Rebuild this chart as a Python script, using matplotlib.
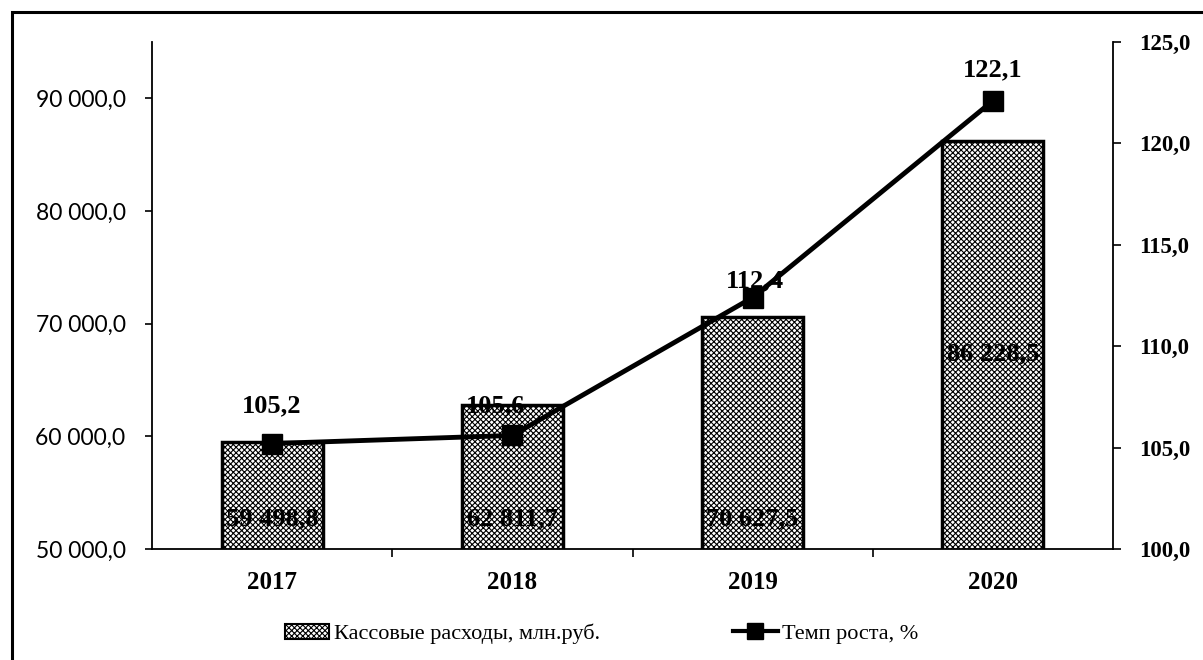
import matplotlib
matplotlib.use("Agg")
import matplotlib.pyplot as plt
import matplotlib.ticker as mticker
from matplotlib.patches import Rectangle, Patch
from matplotlib.lines import Line2D

years = ["2017", "2018", "2019", "2020"]
expenses = [59498.8, 62811.7, 70627.5, 86228.5]   # млн.руб.
growth = [105.2, 105.6, 112.4, 122.1]             # %

bar_label = "Кассовые расходы, млн.руб."
line_label = "Темп роста, %"

SERIF = "Liberation Serif"
SANS = "Lato"

plt.rcParams["hatch.linewidth"] = 0.8
plt.rcParams["hatch.color"] = "#3a3a3a"


def ru_num(v, digits=1):
    # 59498.8 -> "59 498,8"
    s = f"{v:,.{digits}f}"
    return s.replace(",", " ").replace(".", ",")


fig = plt.figure(figsize=(12.03, 6.60), dpi=100)
ax = fig.add_axes([152 / 1203, 1 - 549 / 660, (1113 - 152) / 1203, (549 - 42) / 660])
ax2 = ax.twinx()

x = list(range(len(years)))

# bars
ax.bar(x, expenses, width=0.42, color="white", edgecolor="black",
       linewidth=2.5, hatch="xxxxxx", zorder=2)
ax.set_ylim(50000, 95000)
ax.set_xlim(-0.5, len(years) - 0.5)
ax.set_yticks([50000, 60000, 70000, 80000, 90000])
ax.yaxis.set_major_formatter(mticker.FuncFormatter(lambda v, p: ru_num(v)))
for lbl in ax.get_yticklabels():
    lbl.set_fontfamily(SANS)
    lbl.set_fontsize(16.5)
ax.tick_params(axis="y", length=5, width=1.2, pad=14, direction="out")

ax.set_xticks(x)
ax.set_xticklabels(years, fontfamily=SERIF, fontsize=18, fontweight="bold")
ax.tick_params(axis="x", length=0, pad=16)
ax.set_xticks([0.5, 1.5, 2.5], minor=True)
ax.tick_params(axis="x", which="minor", length=6, width=1.2, direction="out")

for s in ["top", "right"]:
    ax.spines[s].set_visible(False)
ax.spines["left"].set_linewidth(1.3)
ax.spines["bottom"].set_linewidth(1.3)

# bar value labels (placed near bottom, last one higher as in the source)
label_pos = [52650, 52650, 52650, 67300]
for xi, v, yp in zip(x, expenses, label_pos):
    ax.text(xi, yp, ru_num(v), ha="center", va="center", fontfamily=SERIF,
            fontsize=19, fontweight="bold", color="black", zorder=4)

# growth line
ax2.plot(x, growth, color="black", lw=3.5, marker="s", markersize=15, zorder=5)
ax2.set_ylim(100, 125)
ax2.set_yticks([100, 105, 110, 115, 120, 125])
ax2.yaxis.set_major_formatter(mticker.FuncFormatter(lambda v, p: f"{v:.1f}".replace(".", ",")))
for lbl in ax2.get_yticklabels():
    lbl.set_fontfamily(SERIF)
    lbl.set_fontsize(16.5)
    lbl.set_fontweight("bold")
ax2.tick_params(axis="y", length=6, width=1.2, pad=13, direction="out")
for s in ["top", "left", "bottom"]:
    ax2.spines[s].set_visible(False)
ax2.spines["right"].set_linewidth(1.3)

growth_offsets = [(0, 27), (-12, 21), (2, 12), (0, 22)]
for xi, g, (dx, dy) in zip(x, growth, growth_offsets):
    ax2.annotate(f"{g:.1f}".replace(".", ","), (xi, g), xytext=(dx, dy),
                 textcoords="offset points", ha="center", va="center",
                 fontfamily=SERIF, fontsize=19, fontweight="bold")

# legend
handles = [
    Patch(facecolor="white", edgecolor="black", hatch="xxxxxx", linewidth=1.5),
    Line2D([], [], color="black", lw=3, marker="s", markersize=12),
]
fig.legend(handles, [bar_label, line_label], loc="center", ncol=2,
           bbox_to_anchor=(0.5, 1 - 634 / 660), frameon=False,
           prop={"family": SERIF, "size": 16}, handlelength=2.0,
           columnspacing=6, handletextpad=0.2)

# outer frame: only top and left edges are inside the scanned picture
fig.patches.append(Rectangle((12 / 1203, -20 / 660), (1230 - 12) / 1203, (648 + 20) / 660,
                             transform=fig.transFigure, fill=False,
                             edgecolor="black", linewidth=2.2))

fig.savefig("out.png", dpi=100)
